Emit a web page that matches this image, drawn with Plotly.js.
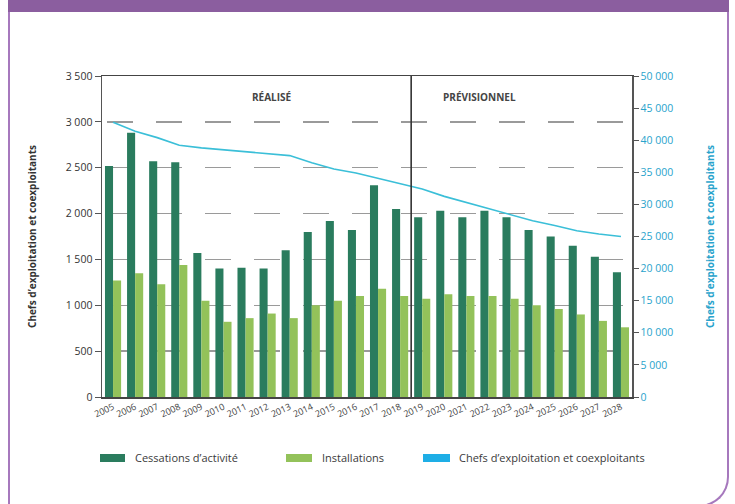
<!DOCTYPE html>
<html>
<head>
<meta charset="utf-8">
<script src="https://cdn.plot.ly/plotly-3.0.1.min.js"></script>
<style>
html,body{margin:0;padding:0;background:#fff;}
#wrap{position:relative;width:735px;height:504px;overflow:hidden;}
#chart{position:absolute;left:0;top:0;width:735px;height:504px;}
#band{position:absolute;left:8px;top:0;width:721px;height:12px;background:#8b5e9f;}
#frame{position:absolute;left:8px;top:0;width:717px;height:505px;border:2px solid #a678bd;border-top:none;border-bottom-right-radius:30px;pointer-events:none;}
</style>
</head>
<body>
<div id="wrap">
  <div id="chart"></div>
  <div id="frame"></div>
  <div id="band"></div>
</div>
<script>
// ---- data ----
const years = ['2005','2006','2007','2008','2009','2010','2011','2012','2013','2014','2015','2016',
               '2017','2018','2019','2020','2021','2022','2023','2024','2025','2026','2027','2028'];
const cessations = [2520,2880,2570,2560,1570,1400,1410,1400,1600,1800,1920,1820,
                    2310,2050,1960,2030,1960,2030,1960,1820,1750,1650,1530,1360];
const installations = [1270,1350,1230,1440,1050,820,860,910,860,1000,1050,1100,
                       1180,1100,1070,1120,1100,1100,1070,1000,960,900,830,760];
const chefs = [42800,41400,40400,39200,38800,38500,38300,38000,37600,36500,35500,34900,
               34100,33200,32400,31250,30300,29400,28500,27450,26700,25900,25400,25000];
const seriesNames = ['Cessations d\u2019activité','Installations','Chefs d\u2019exploitation et coexploitants'];
const periodLabels = ['RÉALISÉ','PRÉVISIONNEL'];
const axisTitle = 'Chefs d\u2019exploitation et coexploitants';

// ---- styles ----
const cDark = '#2a7c5e', cLight = '#93c25a', cLine = '#3bbfd8', cSwatchBlue = '#1eaee6', cAxis2 = '#29a3cc';
const W = 735, H = 504, ML = 102, MR = 103, MT = 76, MB = 107;
const pw = W - ML - MR, ph = H - MT - MB;
const px = x => (x - ML) / pw;
const py = y => (H - MB - y) / ph;

const traces = [
  {type:'bar', x:years, y:cessations, name:seriesNames[0], marker:{color:cDark}},
  {type:'bar', x:years, y:installations, name:seriesNames[1], marker:{color:cLight}},
  {type:'scatter', mode:'lines', x:years, y:chefs, name:seriesNames[2], yaxis:'y2',
   line:{color:cLine, width:1.6}}
];

const shapes = [
  {type:'line', xref:'x', yref:'paper', x0:13.5, x1:13.5, y0:0, y1:1, line:{color:'#333', width:1.6}},
  // legend swatches
  {type:'rect', xref:'paper', yref:'paper', x0:px(100), x1:px(125), y0:py(462), y1:py(454), fillcolor:cDark, line:{width:0}},
  {type:'rect', xref:'paper', yref:'paper', x0:px(286), x1:px(312), y0:py(462), y1:py(454), fillcolor:cLight, line:{width:0}},
  {type:'rect', xref:'paper', yref:'paper', x0:px(423), x1:px(450), y0:py(462), y1:py(454), fillcolor:cSwatchBlue, line:{width:0}}
];

const legFont = {family:'Open Sans', size:11, color:'#3a3a3a'};
const annotations = [
  {xref:'paper', yref:'paper', x:px(250), y:py(97), yanchor:'middle', text:'<b>'+periodLabels[0]+'</b>', showarrow:false, font:{family:'Open Sans', size:10, color:'#444'}},
  {xref:'paper', yref:'paper', x:px(518), y:py(97), yanchor:'middle', text:'<b>'+periodLabels[1]+'</b>', showarrow:false, font:{family:'Open Sans', size:10, color:'#444'}},
  {xref:'paper', yref:'paper', x:px(133), y:py(458), xanchor:'left', yanchor:'middle', text:seriesNames[0], showarrow:false, font:legFont},
  {xref:'paper', yref:'paper', x:px(320), y:py(458), xanchor:'left', yanchor:'middle', text:seriesNames[1], showarrow:false, font:legFont},
  {xref:'paper', yref:'paper', x:px(457), y:py(458), xanchor:'left', yanchor:'middle', text:seriesNames[2], showarrow:false, font:legFont}
];

const layout = {
  width:W, height:H,
  margin:{l:ML, r:MR, t:MT, b:MB, pad:0},
  paper_bgcolor:'rgba(0,0,0,0)', plot_bgcolor:'#fff',
  separators:', ',
  barmode:'group', bargap:0.27, bargroupgap:0,
  showlegend:false,
  font:{family:'Open Sans', color:'#333'},
  xaxis:{type:'category', showline:true, linecolor:'#444', linewidth:1.5, mirror:true,
         ticks:'', tickangle:-25, tickfont:{size:9, color:'#444'}, showgrid:false},
  yaxis:{range:[0,3500], dtick:500, tickformat:',d', showline:true, linecolor:'#555', linewidth:1.5,
         ticks:'outside', ticklen:6, tickcolor:'#555', tickwidth:1,
         showgrid:true, gridcolor:'#9a9a9a', gridwidth:1.5, griddash:'0px,5px,26px,18px', zeroline:false,
         tickfont:{size:10.5, color:'#333'},
         title:{text:'<b>'+axisTitle+'</b>', font:{size:10, color:'#333'}, standoff:27}},
  yaxis2:{overlaying:'y', side:'right', range:[0,50000], dtick:5000, tickformat:',d',
          showline:true, linecolor:'#555', linewidth:1.5, ticks:'outside', ticklen:5, tickcolor:'#555',
          showgrid:false, zeroline:false,
          tickfont:{size:10.5, color:cAxis2},
          title:{text:'<b>'+axisTitle+'</b>', font:{size:10, color:cAxis2}, standoff:34}},
  shapes:shapes,
  annotations:annotations
};

Plotly.newPlot('chart', traces, layout, {displayModeBar:false, staticPlot:true});
</script>
</body>
</html>
